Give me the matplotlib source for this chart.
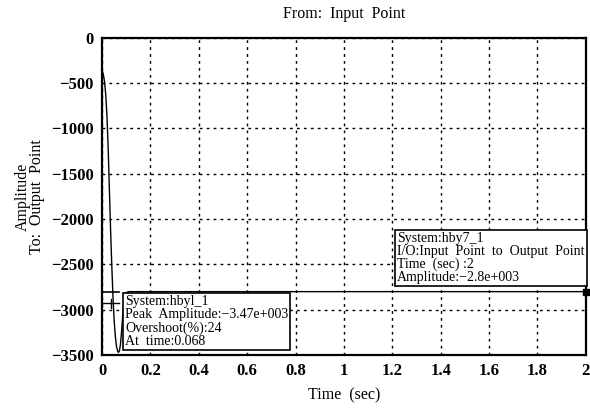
import matplotlib
matplotlib.use("Agg")
import matplotlib.pyplot as plt

plt.rcParams["font.family"] = ["Liberation Serif", "DejaVu Serif"]

# step response
time_s = [0, 0.005, 0.01, 0.015, 0.02, 0.025, 0.03, 0.035, 0.04, 0.045, 0.05,
          0.055, 0.06, 0.065, 0.068, 0.072, 0.076, 0.08, 0.085, 0.09, 0.095,
          0.1, 0.11, 0.12, 0.2, 0.5, 2.0]
amplitude = [-360, -400, -480, -620, -850, -1200, -1650, -2100, -2500, -2850,
             -3120, -3300, -3410, -3460, -3470, -3450, -3380, -3260, -3080,
             -2930, -2850, -2810, -2800, -2800, -2800, -2800, -2800]

x_ticks = [0, 0.2, 0.4, 0.6, 0.8, 1, 1.2, 1.4, 1.6, 1.8, 2]
x_labels = ["0", "0.2", "0.4", "0.6", "0.8", "1", "1.2", "1.4", "1.6", "1.8", "2"]
y_ticks = [0, -500, -1000, -1500, -2000, -2500, -3000, -3500]
y_labels = ["0", "\u2212500", "\u22121000", "\u22121500", "\u22122000",
            "\u22122500", "\u22123000", "\u22123500"]

peak_text = "System:hbyl_1\nPeak  Amplitude:\u22123.47e+003\nOvershoot(%):24\nAt  time:0.068"
final_text = "System:hby7_1\nI/O:Input  Point  to  Output  Point\nTime  (sec) :2\nAmplitude:\u22122.8e+003"

fig = plt.figure(figsize=(5.9, 4.11), dpi=100)
ax = fig.add_axes([0.173, 0.136, 0.82, 0.772])

ax.plot(time_s, amplitude, color="black", lw=1.0)
# steady state line and datatip markers
ax.plot([0, 0.07], [-2800, -2800], color="black", lw=1.2)
ax.plot([0, 0.07], [-2930, -2930], color="black", lw=1.0)
ax.plot([0.035, 0.035], [-2880, -2980], color="black", lw=1.0)
ax.plot([2], [-2800], marker="s", color="black", ms=5, clip_on=False)

ax.set_xlim(0, 2)
ax.set_ylim(-3500, 0)
ax.set_xticks(x_ticks)
ax.set_xticklabels(x_labels, fontsize=12, fontweight="bold")
ax.set_yticks(y_ticks)
ax.set_yticklabels(y_labels, fontsize=12, fontweight="bold")
ax.tick_params(length=0, pad=6)
ax.grid(True, color="black", linestyle=(0, (2, 3)), lw=1.0)
for s in ax.spines.values():
    s.set_linewidth(1.6)

ax.set_title("From:  Input  Point", fontsize=11.5, pad=14)
ax.set_xlabel("Time  (sec)", fontsize=11.5, labelpad=6)
ax.set_ylabel("Amplitude\nTo:  Output  Point", fontsize=11.5, labelpad=4,
              linespacing=0.9)

ax.text(0.095, -2840, peak_text, fontsize=10, va="top", ha="left",
        linespacing=1.0,
        bbox=dict(boxstyle="square,pad=0.15", fc="white", ec="black", lw=1.2))
ax.text(1.22, -2140, final_text, fontsize=10, va="top", ha="left",
        linespacing=1.0,
        bbox=dict(boxstyle="square,pad=0.15", fc="white", ec="black", lw=1.2))

fig.savefig("out.png", dpi=100)
